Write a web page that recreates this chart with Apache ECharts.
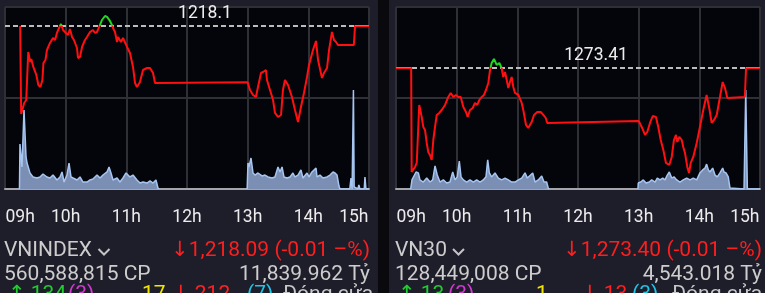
<!DOCTYPE html>
<html><head><meta charset="utf-8">
<script src="https://cdn.jsdelivr.net/npm/echarts@6/dist/echarts.min.js"></script>
<style>html,body{margin:0;padding:0;background:#1e1d2a;overflow:hidden}#c{width:765px;height:293px}</style>
</head><body><div id="c"></div><script>
// ---- axis ticks (minutes since 09:00) ----
const tickMinutes = [15, 60, 120, 180, 240, 300, 345];
const tickLabels = ['09h', '10h', '11h', '12h', '13h', '14h', '15h'];

// ---- VNINDEX ----
const vniRef = 1218.1;
const vniRefLabel = '1218.1';
const vniMinutes = [15,16,17,19,21,23,25,26,28,31,33,35,37,38,40,41.5,44.5,47.5,49.5,51.4,53.4,55.4,57.4,60.3,62.3,64.3,66.3,68.2,71.2,72.2,74.2,76.2,79.1,81.1,84.1,87,89,91,94,95.9,98.9,100.9,103.8,105.8,106.8,108.8,110.8,111.8,114.7,116.7,120.7,123.6,126.6,128.6,130.5,133.5,136.5,140.4,143.4,146.4,148.4,150.3,240,
242.3,245.3,248.2,250.2,253.2,255.2,258.1,259.1,262.1,265.1,267,270,273,274.9,276.9,279.9,283.8,286.8,289.8,292.7,295.7,298.7,300.7,304.6,307.6,309.6,313.5,315.5,318.5,320.5,323.4,325.4,327.4,329.3,345,346.2,360];
const vniPrices = [1218.10,1207.10,1207.10,1208.48,1208.85,1214.85,1213.60,1213.98,1212.98,1211.98,1210.73,1210.48,1211.35,1213.48,1213.85,1215.10,1215.98,1216.60,1216.35,1217.23,1217.85,1218.35,1217.60,1217.23,1216.98,1217.73,1216.73,1216.35,1215.35,1214.10,1214.23,1215.48,1216.35,1216.73,1217.35,1217.60,1217.23,1217.35,1218.23,1218.85,1219.35,1219.23,1218.73,1218.23,1217.85,1217.35,1216.10,1216.73,1216.10,1216.60,1215.48,1214.73,1212.98,1210.98,1210.48,1211.10,1212.60,1212.85,1212.85,1212.23,1210.98,1211.06,1211.06,
1210.10,1209.48,1209.23,1210.48,1212.23,1212.35,1212.60,1211.35,1210.10,1208.85,1207.23,1206.73,1206.98,1210.10,1211.35,1210.73,1209.23,1207.60,1206.10,1207.98,1209.73,1211.73,1213.23,1215.10,1216.23,1213.85,1211.60,1212.23,1212.85,1215.10,1217.35,1216.35,1216.10,1215.73,1215.73,1218.09,1218.09];
const vniVolMinutes = [14.3,14.8,16.8,18.8,20.8,21.8,23.7,24.7,27.7,31.6,34.6,37.6,41.5,44.5,47.5,51.4,54.4,56.4,58.4,61.3,63.3,65.3,67.3,71.2,74.2,77.1,81.1,84.1,87,91,94,96.9,100.9,102.9,104.8,106.8,110.8,113.7,116.7,119.7,123.6,126.6,130.5,133.5,136.5,140.4,143.4,146.4,149.3,151.3,152,195,239.5,
240.3,241.3,243.3,245.3,247.3,250.2,254.2,257.1,260.1,264.1,267,270,272,274,275.9,278.9,281.9,284.8,286.8,289.8,292.7,294.7,298.7,300.7,303.6,307.6,308.6,311.5,314.5,318.5,321.4,324.4,326.4,328.4,330.3,331.3,341,342.2,343.3,344,344.6,345.3,349,350,351,355.3,356,357,360];
const vniVolumes = [0,6.18,3.02,10.85,4.40,3.57,3.71,2.20,1.65,1.51,1.65,2.06,1.65,1.51,1.92,1.24,1.65,2.34,0.96,1.92,3.57,1.65,1.51,1.24,1.65,0.96,0.96,1.24,1.37,1.92,1.51,1.92,2.34,3.02,2.20,1.24,1.51,0.96,1.51,2.20,1.65,1.92,1.24,0.82,0.96,0.82,1.10,0.82,1.24,0.14,0,null,0,
3.57,3.02,4.26,2.20,1.92,2.20,1.79,1.92,1.65,1.51,1.65,3.02,2.34,3.02,1.65,1.51,1.65,2.20,1.65,1.92,2.61,1.51,2.20,1.65,2.34,2.88,1.65,1.92,1.51,1.65,1.92,2.34,2.20,1.92,0.40,0,0,1.50,0,0,13.6,0.30,0,0.55,0,0,1.65,0,0];

// ---- VN30 ----
const vn30Ref = 1273.41;
const vn30RefLabel = '1273.41';
const vn30Minutes = [0,15,15.5,17.1,18.8,20.5,21.5,23,25.4,27,28.7,30.4,31.9,33.6,35.3,36.9,38.6,40.3,42.8,45.2,48.5,51.7,54.1,56.7,59.3,61.6,64,66.6,69.2,70.9,73.2,75.9,78.1,80.4,82.4,84.8,87,89,91.3,93,94.6,96.9,99.6,102.2,104.5,106.1,107.8,109.5,111.1,112.7,114.4,116,117.7,121,124.3,125.9,128.6,130.8,134.2,136.5,139.7,143.1,145.7,148.1,149.6,150.6,240,
243,246.3,248.5,251.2,253.9,257.1,259.4,261.8,264.4,267,270.3,272.7,274.9,276.9,278.2,280.2,282.6,284.1,285.8,288.1,289.8,291.5,294,297.4,300.6,303.9,307.2,309.8,312.2,314.5,317.2,320.4,323.1,325.4,327.7,329.6,345,346.2,360];
const vn30Prices = [1273.41,1273.41,1260.41,1260.41,1261.04,1261.54,1264.41,1268.79,1267.29,1266.04,1265.66,1264.04,1262.91,1262.54,1261.91,1264.41,1266.04,1267.54,1267.79,1268.16,1268.79,1269.79,1270.29,1269.79,1270.04,1269.79,1269.79,1268.54,1267.91,1267.29,1268.16,1268.41,1269.04,1268.79,1269.41,1269.79,1270.04,1270.66,1271.54,1273.16,1274.04,1274.54,1273.79,1274.04,1273.41,1272.29,1272.91,1271.91,1270.91,1271.66,1272.29,1271.04,1270.29,1270.04,1269.04,1268.16,1266.29,1265.91,1266.66,1267.54,1267.91,1267.91,1267.54,1267.16,1266.54,1266.79,1266.79,
1266.04,1265.04,1265.41,1266.54,1267.41,1267.29,1266.04,1264.41,1263.16,1261.54,1261.29,1262.29,1264.41,1265.04,1264.16,1264.79,1264.41,1263.54,1262.79,1261.04,1260.29,1261.54,1262.29,1264.04,1266.04,1268.16,1270.04,1268.41,1266.54,1266.91,1267.54,1269.79,1271.66,1270.91,1269.66,1269.79,1269.79,1273.40,1273.40];
const vn30VolMinutes = [14.5,15.8,19.8,22.1,23.7,27,30.4,33.6,36.3,38.6,40.8,43.5,46.8,50.1,53.4,56.1,58.4,60.6,62.6,64.3,66.6,69.9,73.2,76.5,79.8,83.1,86.3,89,90.7,92.3,94.6,97.9,101.2,104.5,107.8,111.1,114.4,117.7,121,124.3,127.6,129.9,131.8,135.2,137.5,140.7,144.1,146.4,149,150.6,151.3,195,239.3,
239.6,242,244.6,247.3,250.5,252.9,256.2,258.4,261.1,263.8,266,268.3,270.3,272.7,274.9,277.6,280.9,284.1,287.5,290.8,294,297.4,300.6,303.3,305.6,307.2,308.9,310.5,313.2,315.5,317.8,320.4,323.1,324.4,326.4,328.6,330.3,330.8,344.2,345.9,347.5,360];
const vn30Volumes = [0,0.30,0.56,0.53,0.30,0.23,0.36,0.23,0.30,0.76,0.46,0.23,0.30,0.20,0.23,0.56,0.30,0.40,0.92,0.40,0.30,0.23,0.30,0.23,0.30,0.23,0.30,0.40,0.96,0.53,0.40,0.53,0.36,0.30,0.36,0.30,0.23,0.23,0.30,0.36,0.53,0.36,0.30,0.53,0.23,0.30,0.43,0.23,0.23,0.03,0,null,0,
0.20,0.23,0.30,0.20,0.23,0.30,0.23,0.36,0.30,0.36,0.30,0.46,0.56,0.36,0.40,0.30,0.23,0.30,0.36,0.30,0.36,0.30,0.53,0.63,0.69,0.82,0.63,0.56,0.69,0.46,0.40,0.53,0.69,0.56,0.53,0.40,0.03,0,0,3.26,0,0];

const zip = (xs, ys) => xs.map((x, i) => [x, ys[i]]);

const FONT = 'Roboto, "DejaVu Sans", sans-serif';
const GREEN = '#1fd81f', RED = '#ff0f0f';

function gridDef(left) {
  return { left: left, top: 7, width: 364, height: 182, show: true,
    backgroundColor: '#04040b', borderColor: '#3b3b45', borderWidth: 1,
    containLabel: false, outerBoundsMode: 'none' };
}
function xAxes(g) {
  return [
    { gridIndex: g, type: 'value', min: 0, max: 360, interval: 60, position: 'bottom',
      axisLine: { show: true, lineStyle: { color: '#a4a4ab', width: 2 } },
      axisTick: { show: false }, axisLabel: { show: false },
      splitLine: { show: true, lineStyle: { color: '#2f2f36', width: 2 } } },
    { gridIndex: g, type: 'value', min: 0, max: 360, interval: 15, position: 'bottom',
      axisLine: { show: false }, axisTick: { show: false }, splitLine: { show: false },
      axisLabel: { show: true, margin: 20, color: '#ececec', fontSize: 17.5, fontFamily: FONT,
        showMinLabel: true, showMaxLabel: true,
        formatter: v => { const i = tickMinutes.indexOf(v); return i >= 0 ? tickLabels[i] : ''; } } }
  ];
}
function yAxes(g, pmin, pmax, vmax) {
  return [
    { gridIndex: g, type: 'value', min: pmin, max: pmax, show: false },
    { gridIndex: g, type: 'value', min: 0, max: vmax, show: false },
    { gridIndex: g, type: 'value', min: 0, max: 2, interval: 1, position: 'right',
      axisLine: { show: false }, axisTick: { show: false }, axisLabel: { show: false },
      splitLine: { show: true, lineStyle: { color: '#2f2f36', width: 2 } } }
  ];
}
function priceSeries(xi, yi, data, ref, label) {
  return { type: 'line', xAxisIndex: xi, yAxisIndex: yi, data: data, symbol: 'none', z: 4,
    lineStyle: { width: 2, color: RED }, animation: false,
    markLine: { silent: true, symbol: 'none', animation: false, z: 3,
      lineStyle: { type: [5, 3], color: '#bcbcbc', width: 2 },
      label: { show: true, position: 'insideMiddleTop', formatter: label, color: '#ededed',
        fontSize: 17.5, fontFamily: FONT, lineHeight: 18, distance: 3, padding: [0, 0, 0, 36] },
      data: [{ yAxis: ref }] } };
}
function volSeries(xi, yi, data) {
  return { type: 'line', xAxisIndex: xi, yAxisIndex: yi, data: data, symbol: 'none', z: 2,
    connectNulls: false,
    lineStyle: { color: '#a6c6f1', width: 1.5 }, areaStyle: { color: '#7b8fb5', opacity: 1 },
    animation: false };
}

const txt = (x, y, text, fill, align) => ({ type: 'text', x: x, y: y, silent: true,
  style: { text: text, fill: fill, fontSize: 21, fontFamily: FONT, align: align || 'left', verticalAlign: 'middle' } });

const chart = echarts.init(document.getElementById('c'), null, { renderer: 'canvas' });
chart.setOption({
  backgroundColor: '#1e1d2a',
  animation: false,
  grid: [gridDef(5), gridDef(396)],
  xAxis: [...xAxes(0), ...xAxes(1)],
  yAxis: [...yAxes(0, 1197.725, 1220.475, 25), ...yAxes(1, 1258.285, 1281.035, 6)],
  series: [
    volSeries(0, 1, zip(vniVolMinutes, vniVolumes)),
    priceSeries(0, 0, zip(vniMinutes, vniPrices), vniRef, vniRefLabel),
    volSeries(2, 4, zip(vn30VolMinutes, vn30Volumes)),
    priceSeries(2, 3, zip(vn30Minutes, vn30Prices), vn30Ref, vn30RefLabel)
  ],
  graphic: { elements: [
    { type: 'rect', silent: true, shape: { x: 378, y: 0, width: 11, height: 293 }, style: { fill: '#09090e' } },
    txt(4, 250.5, 'VNINDEX', '#cdcdcd'),
    { type: 'polyline', silent: true, shape: { points: [[98.5, 249], [104, 254.5], [109.5, 249]] }, style: { stroke: '#c4c4c4', lineWidth: 2, fill: null } },
    txt(370, 250.5, '↓1,218.09 (-0.01 –%)', '#ff1e1e', 'right'),
    txt(4, 274.5, '560,588,815 CP', '#cdcdcd'),
    txt(370, 274.5, '11,839.962 Tỷ', '#cdcdcd', 'right'),
    txt(8, 295, '↑ 134', '#22cc33'),
    txt(68, 295, '(3)', '#d33ad3'),
    txt(142, 295, '17', '#f2e600'),
    txt(172, 295, '↓ 212', '#ff2020'),
    txt(247, 295, '(7)', '#22c4e8'),
    txt(283, 295, 'Đóng cửa', '#c8c8c8'),
    txt(395, 250.5, 'VN30', '#cdcdcd'),
    { type: 'polyline', silent: true, shape: { points: [[453, 249], [458.5, 254.5], [464, 249]] }, style: { stroke: '#c4c4c4', lineWidth: 2, fill: null } },
    txt(762, 250.5, '↓1,273.40 (-0.01 –%)', '#ff1e1e', 'right'),
    txt(395, 274.5, '128,449,008 CP', '#cdcdcd'),
    txt(762, 274.5, '4,543.018 Tỷ', '#cdcdcd', 'right'),
    txt(398, 295, '↑ 13', '#22cc33'),
    txt(448, 295, '(3)', '#d33ad3'),
    txt(536, 295, '1', '#f2e600'),
    txt(581, 295, '↓ 13', '#ff2020'),
    txt(632, 295, '(3)', '#22c4e8'),
    txt(672, 295, 'Đóng cửa', '#c8c8c8')
  ] }
});

// colour the price lines green above / red below the reference, split at the reference's pixel row
function refGradient(xi, yi, ref) {
  const y = chart.convertToPixel({ xAxisIndex: xi, yAxisIndex: yi }, [0, ref])[1];
  return new echarts.graphic.LinearGradient(0, y - 1, 0, y + 1, [
    { offset: 0, color: GREEN }, { offset: 0.5, color: GREEN },
    { offset: 0.5, color: RED }, { offset: 1, color: RED }], true);
}
chart.setOption({ series: [
  {}, { lineStyle: { color: refGradient(0, 0, vniRef) } },
  {}, { lineStyle: { color: refGradient(2, 3, vn30Ref) } }
] });
</script></body></html>
